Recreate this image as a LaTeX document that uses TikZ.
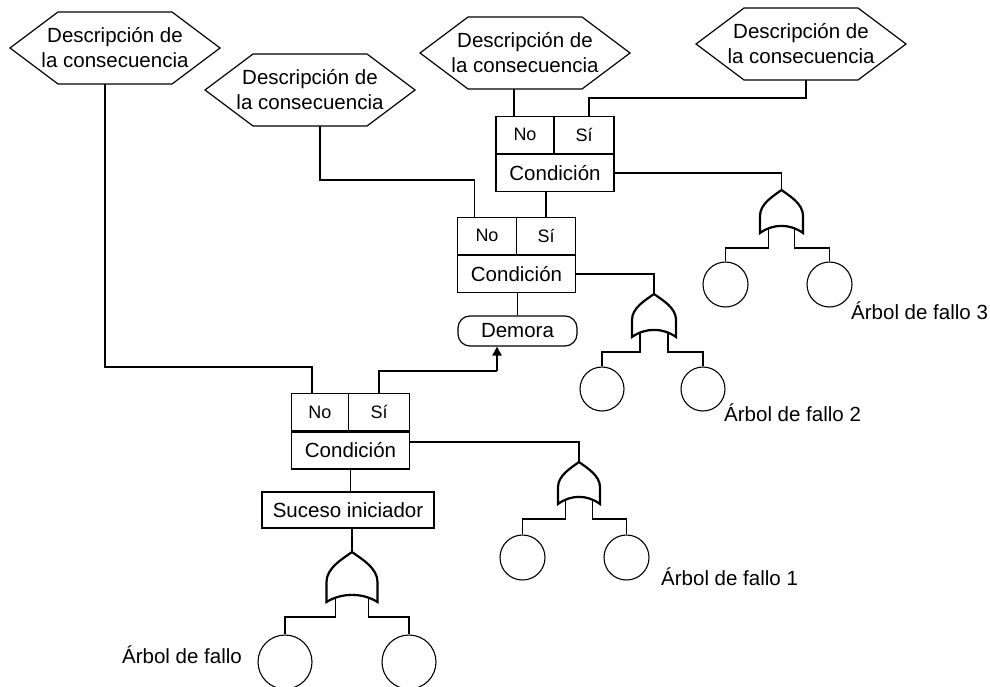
\documentclass[tikz,border=0pt]{standalone}
\usepackage{fontspec}
\setmainfont{Liberation Sans}
\usetikzlibrary{calc,arrows.meta}
\tikzset{
  conn/.style={line width=1.2pt},
  hexline/.style={line width=1.2pt},
  hextext/.style={align=center, inner sep=0pt, font=\fontsize{20.5}{25}\selectfont},
  condcell/.style={draw, line width=1.2pt, minimum width=118pt, minimum height=37pt, inner sep=0pt, font=\fontsize{20.5}{24}\selectfont},
  nscell/.style={draw, line width=1.2pt, minimum height=37pt, inner sep=0pt, font=\fontsize{18}{22}\selectfont},
  evbox/.style={draw, line width=1.2pt, minimum width=172pt, minimum height=36pt, inner sep=0pt, font=\fontsize{20.5}{24}\selectfont},
  delaybox/.style={draw, line width=1.2pt, rounded corners=12pt, minimum width=119pt, minimum height=30pt, inner sep=0pt, font=\fontsize{20.5}{24}\selectfont},
  fcircle/.style={draw, circle, line width=1.1pt, inner sep=0pt},
  leg/.style={line width=1.2pt},
  gate/.style={draw, fill=white, line width=2.2pt, line join=miter},
  lbl/.style={inner sep=0pt, font=\fontsize{20.5}{24}\selectfont},
  arr/.style={line width=2.6pt, -{Triangle[length=9pt,width=9pt]}}
}
\newcommand{\hexat}[3]{%
  \node[hextext] (#1) at (#2) {#3};
  \draw[hexline] ($(#1)+(-105,0)$) -- ($(#1)+(-57,-36)$) -- ($(#1)+(57,-36)$) -- ($(#1)+(105,0)$) -- ($(#1)+(57,36)$) -- ($(#1)+(-57,36)$) -- cycle;
  \coordinate (#1-b) at ($(#1)+(0,36)$);
}
% name, apex, half width, height, leg offset, left circle, right circle, diameter
\newcommand{\orgate}[8]{%
  \begin{scope}[shift={(#2)}]
    \coordinate (#1) at (0,0);
    \coordinate (#1-l) at ({-#5},{#4-4});
    \coordinate (#1-r) at (#5,{#4-4});
  \end{scope}
  \node[fcircle, minimum size=#8pt] (#1a) at (#6) {};
  \node[fcircle, minimum size=#8pt] (#1b) at (#7) {};
  \draw[leg] (#1-l) -- ++(0,19) -| (#1a.north);
  \draw[leg] (#1-r) -- ++(0,19) -| (#1b.north);
  \begin{scope}[shift={(#2)}]
    \filldraw[gate] ({-#3},#4) .. controls ({-0.4*#3},{#4-9.5}) and ({0.4*#3},{#4-9.5}) .. (#3,#4)
      -- (#3,{0.6*#4}) .. controls (#3,{0.32*#4}) and ({0.38*#3},{0.14*#4}) .. (0,0)
      .. controls ({-0.38*#3},{0.14*#4}) and ({-#3},{0.32*#4}) .. ({-#3},{0.6*#4}) -- cycle;
  \end{scope}
}
\begin{document}
\begin{tikzpicture}[x=1pt,y=-1pt]
\useasboundingbox (0,0) rectangle (990,687);

% consequence hexagons
\hexat{h1}{115,48}{Descripción de\\la consecuencia}
\hexat{h2}{310,90}{Descripción de\\la consecuencia}
\hexat{h3}{525,53}{Descripción de\\la consecuencia}
\hexat{h4}{801,44}{Descripción de\\la consecuencia}

% condition boxes
\node[condcell] (c1) at (350.5,450.5) {Condición};
\node[nscell, minimum width=57pt, anchor=south west] (c1no) at (c1.north west) {No};
\node[nscell, minimum width=61pt, anchor=south east] (c1si) at (c1.north east) {Sí};

\node[condcell] (c2) at (516.5,274) {Condición};
\node[nscell, minimum width=59pt, anchor=south west] (c2no) at (c2.north west) {No};
\node[nscell, minimum width=59pt, anchor=south east] (c2si) at (c2.north east) {Sí};

\node[condcell] (c3) at (555,173) {Condición};
\node[nscell, minimum width=58pt, anchor=south west] (c3no) at (c3.north west) {No};
\node[nscell, minimum width=60pt, anchor=south east] (c3si) at (c3.north east) {Sí};

% initiating event and delay
\node[evbox] (si) at (348,510) {Suceso iniciador};
\node[delaybox] (dm) at (517.5,331) {Demora};

% gates with fault tree circles
\orgate{g0}{352,552}{25.5}{50}{16.5}{285,662}{409,662}{54}
\orgate{g1}{579,462}{21}{42}{13.5}{522.5,557.5}{626.5,557.5}{45}
\orgate{g2}{654,294}{22}{43}{14}{602,389}{703,389}{44}
\orgate{g3}{781.5,190}{21.5}{43}{13}{725.5,284.5}{829.5,284.5}{45}

% labels
\node[lbl, anchor=west] (t0) at (122,655) {Árbol de fallo};
\node[lbl, anchor=west] (t1) at (661,577) {Árbol de fallo 1};
\node[lbl, anchor=west] (t2) at (724,413) {Árbol de fallo 2};
\node[lbl, anchor=west] (t3) at (851,311) {Árbol de fallo 3};

% connectors
\draw[conn] ([xshift=-10pt]h1-b) -- ++(0,283) -| ([xshift=-8pt]c1no.north);
\draw[conn] ([xshift=10pt]h2-b) -- ++(0,54) -| ([xshift=-12.5pt]c2no.north);
\draw[conn] ([xshift=-11pt]c3no.north) -- ([xshift=-11pt]c3no.north |- h3-b);
\draw[conn] ([xshift=5pt]h4-b) -- ++(0,18) -| ([xshift=5pt]c3si.north);
\draw[conn] (c2si.north) -- (c2si.north |- c3.south);
\draw[conn] (c3.east) -| (g3);
\draw[conn] (c2.east) -| (g2);
\draw[conn] (dm.north) -- (dm.north |- c2.south);
\coordinate (ak) at (497,371);
\draw[conn] (c1si.north) |- (ak);
\draw[arr] (ak) -- (ak |- dm.south);
\draw[conn] ([yshift=8.5pt]c1.east) -| (g1);
\draw[conn] (c1.south) -- (c1.south |- si.north);
\draw[conn] (g0 |- si.south) -- (g0);
\end{tikzpicture}
\end{document}
